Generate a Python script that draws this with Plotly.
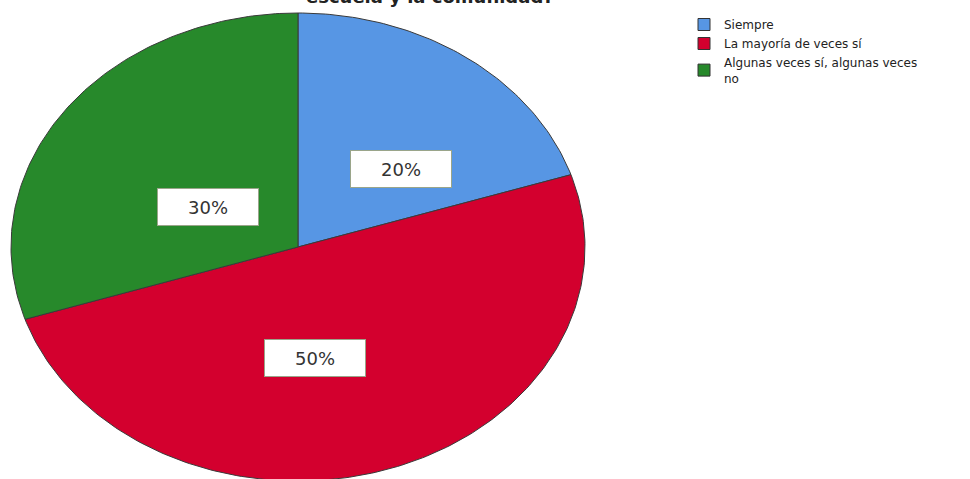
import numpy as np
import plotly.graph_objects as go

categories = ["Siempre", "La mayoría de veces sí", "Algunas veces sí, algunas veces<br>no"]
values = [20, 50, 30]
colors = ["#5796e4", "#d3002e", "#27892b"]
label_pos = [(0.36, 0.333), (0.059, -0.474), (-0.315, 0.171)]  # label anchors in pie units

W, H = 970, 479
cx, cy, rx, ry = 298, 247, 287, 234  # pie centre / radii in pixels (ellipse)

fig = go.Figure()
total = sum(values)
start = 0.0
for cat, v, col in zip(categories, values, colors):
    frac = v / total
    n = max(int(frac * 400), 4)
    th = np.linspace(start, start + frac * 2 * np.pi, n)
    xs = np.concatenate([[0], np.sin(th), [0]])
    ys = np.concatenate([[0], np.cos(th), [0]])
    fig.add_trace(go.Scatter(x=xs, y=ys, mode="lines", fill="toself", fillcolor=col,
                             line=dict(color="#3a3a3a", width=1), name=cat,
                             hoverinfo="name", showlegend=False))
    start += frac * 2 * np.pi

# legend entries (square swatches)
for cat, col in zip(categories, colors):
    fig.add_trace(go.Scatter(x=[None], y=[None], mode="markers", name=cat,
                             marker=dict(symbol="square", size=12, color=col,
                                         line=dict(color="#333", width=1)),
                             showlegend=True))

for v, (lx, ly) in zip(values, label_pos):
    fig.add_annotation(x=lx, y=ly, xref="x", yref="y", text=f"{round(100*v/total)}%",
                       showarrow=False, bgcolor="white", bordercolor="#9aa58a", borderwidth=1,
                       width=98, height=34, font=dict(family="DejaVu Sans", size=18, color="#333"))

fig.add_annotation(x=430 / W, y=1 + 4 / H, xref="paper", yref="paper", text="<b>escuela y la comunidad?</b>",
                   showarrow=False, yanchor="middle", font=dict(family="DejaVu Sans", size=18, color="#222"))

fig.update_layout(
    width=W, height=H, margin=dict(l=0, r=0, t=0, b=0, autoexpand=False),
    paper_bgcolor="white", plot_bgcolor="white",
    xaxis=dict(range=[-cx / rx, (W - cx) / rx], visible=False, fixedrange=True),
    yaxis=dict(range=[(cy - H) / ry, cy / ry], visible=False, fixedrange=True),
    legend=dict(x=684 / W, y=1 - 10 / H, xanchor="left", yanchor="top", tracegroupgap=0,
                font=dict(family="DejaVu Sans", size=12, color="#222"), itemwidth=30,
                bgcolor="rgba(0,0,0,0)"),
    showlegend=True,
)
fig.write_html("out.html", post_script="document.body.style.margin='0';",
               config={"displayModeBar": False})
